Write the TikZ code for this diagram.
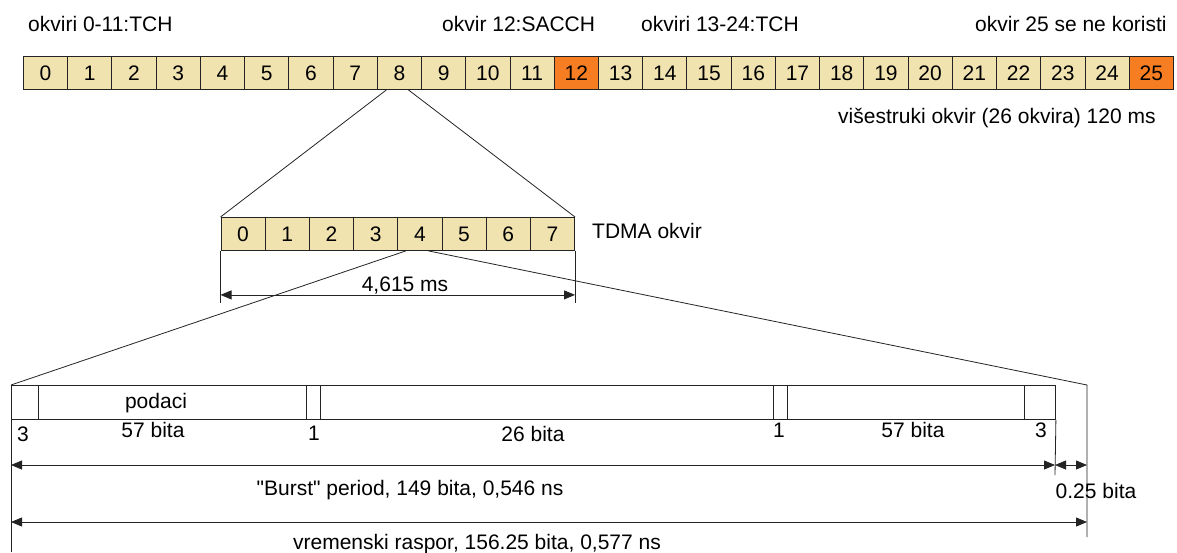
\documentclass[tikz,border=0pt]{standalone}
\usepackage{fontspec}
\setmainfont{Liberation Sans}[Ligatures=TeXOff]
\usetikzlibrary{arrows.meta,calc}
\definecolor{beige}{RGB}{240,227,176}
\definecolor{orng}{RGB}{247,125,35}
\definecolor{ln}{RGB}{35,35,35}
\begin{document}
\begin{tikzpicture}[x=1pt,y=-1pt,
  every node/.style={font=\fontsize{21}{25}\selectfont, text=black},
  frame/.style={draw=ln, line width=0.9pt, fill=beige, minimum height=33pt, inner sep=0pt, anchor=north west},
  bcell/.style={draw=ln, line width=0.9pt, fill=white, minimum height=34pt, inner sep=0pt, anchor=north west},
  conn/.style={draw=ln, line width=0.8pt},
  dim/.style={draw=ln, line width=0.8pt, {Triangle[length=11pt,width=9pt]}-{Triangle[length=11pt,width=9pt]}},
  lbl/.style={anchor=base, inner sep=0pt},
  lblw/.style={anchor=base west, inner sep=0pt}]
\useasboundingbox (0,0) rectangle (1177,552);

% multiframe
\foreach \i in {0,...,25}{
  \pgfmathsetmacro{\xx}{23+\i*44.23}
  \ifnum\i=12 \def\cc{orng}\else\ifnum\i=25 \def\cc{orng}\else\def\cc{beige}\fi\fi
  \node[frame, fill=\cc, minimum width=44.23pt] (m\i) at (\xx,56) {\i};
}

% labels top
\node[lblw] (l1) at (28,31) {okviri 0-11:TCH};
\node[lblw] (l2) at (442,31) {okvir 12:SACCH};
\node[lblw] (l3) at (641,31) {okviri 13-24:TCH};
\node[lblw] (l4) at (975,31) {okvir 25 se ne koristi};
\node[lblw] (l5) at (838,123) {višestruki okvir (26 okvira) 120 ms};

% TDMA frame
\foreach \i in {0,...,7}{
  \pgfmathsetmacro{\xx}{220.5+\i*44.2}
  \node[frame, minimum width=44.2pt] (t\i) at (\xx,217) {\i};
}
\node[lblw] (tl) at (592,238) {TDMA okvir};

% connectors multiframe -> TDMA
\draw[conn] ($(m8.south)+(-13,0)$) -- (t0.north west);
\draw[conn] ($(m8.south)+(9,0)$) -- (t7.north east);

% TDMA dimension
\coordinate (td1) at ($(t0.south west)+(0,52)$);
\coordinate (td2) at ($(t7.south east)+(0,52)$);
\draw[conn] (t0.south west) -- (td1);
\draw[conn] (t7.south east) -- (td2);
\draw[dim] ($(t0.south west)+(0,44)$) -- ($(t7.south east)+(0,44)$);
\node[lbl] (tms) at (405,291) {4,615 ms};

% burst frame
\node[bcell, minimum width=27pt] (b1) at (11,385) {};
\node[bcell, minimum width=268pt] (b2) at (38,385) {};
\node[bcell, minimum width=14pt] (b3) at (306,385) {};
\node[bcell, minimum width=453pt] (b4) at (320,385) {};
\node[bcell, minimum width=14pt] (b5) at (773,385) {};
\node[bcell, minimum width=237pt] (b6) at (787,385) {};
\node[bcell, minimum width=31pt] (b7) at (1024,385) {};

\coordinate (ge) at (1087,385);
\coordinate (geb) at (1087,537);
\coordinate (lb) at (11,552);
\coordinate (rb) at (1055,475);

% connectors TDMA -> burst
\draw[conn] ($(t4.south)+(-14,0)$) -- (b1.north west);
\draw[conn] ($(t4.south)+(8.6,0)$) -- (ge) -- (geb);
\draw[conn] (b1.south west) -- (lb);
\draw[conn] (b7.south east) -- (rb);

% burst labels
\node[lbl] (tp) at (156,408) {podaci};
\node[lbl] (t57a) at (153,437) {57 bita};
\node[lbl] (t3a) at (23,441) {3};
\node[lbl] (t1a) at (314,440) {1};
\node[lbl] (t26) at (533,441) {26 bita};
\node[lbl] (t1b) at (779,437) {1};
\node[lbl] (t57b) at (913,437) {57 bita};
\node[lbl] (t3b) at (1041,437) {3};

% dimension arrows
\draw[dim] (11,465) -- (1055,465);
\draw[dim] (1055,465) -- (1087,465);
\draw[dim] (11,522) -- (1087,522);
\node[lbl] (tb) at (410,495) {"Burst" period, 149 bita, 0,546 ns};
\node[lbl] (tq) at (1096,498) {0.25 bita};
\node[lbl] (tv) at (477,549) {vremenski raspor, 156.25 bita, 0,577 ns};
\end{tikzpicture}
\end{document}
